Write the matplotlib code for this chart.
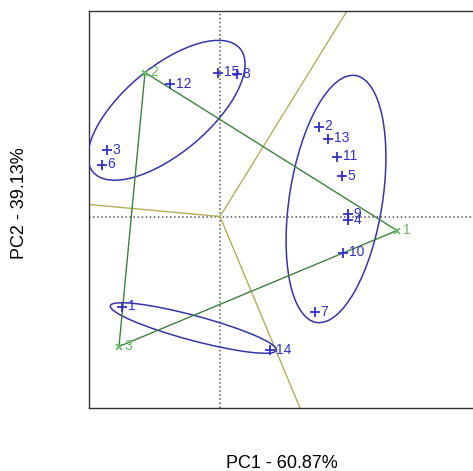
import numpy as np
import matplotlib.pyplot as plt
from matplotlib.patches import Ellipse

# Sample scores on the first two components
labels = ['1', '2', '3', '4', '5', '6', '7', '8', '9', '10', '11', '12', '13', '14', '15']
pc1 = [-0.98, 0.99, -1.13, 1.28, 1.22, -1.18, 0.95, 0.17, 1.28, 1.23, 1.17, -0.50, 1.08, 0.50, -0.02]
pc2 = [-0.90, 0.90, 0.67, -0.03, 0.41, 0.52, -0.95, 1.43, 0.03, -0.36, 0.60, 1.33, 0.78, -1.33, 1.44]

# Group points (green)
grp_labels = ['1', '2', '3']
grp_x = [1.77, -0.75, -1.01]
grp_y = [-0.14, 1.44, -1.30]

# Group ellipses: centre x, centre y, semi-major, semi-minor, angle (deg)
ell_x = [-0.535, 1.16, -0.266]
ell_y = [1.062, 0.175, -1.115]
ell_a = [0.96, 1.25, 0.86]
ell_b = [0.43, 0.465, 0.124]
ell_ang = [40, 81, -15]

# Variable directions
var_x = [1.27, -1.31, 0.80]
var_y = [2.055, 0.12, -1.915]

fig = plt.figure(figsize=(4.73, 4.71), dpi=100)
ax = fig.add_axes([89/473, 1 - 408/471, 385/473, 397/471])
ax.set_xlim(-1.31, 2.54)
ax.set_ylim(-1.915, 2.055)

# reference lines through origin
ax.axhline(0, color='#555555', ls=':', lw=1.1, zorder=1)
ax.axvline(0, color='#555555', ls=':', lw=1.1, zorder=1)

# variable axes (run out to the frame)
for vx, vy in zip(var_x, var_y):
    ax.plot([0, vx * 10], [0, vy * 10], color='#b3ad5c', lw=1, zorder=2)

# ellipses
for cx, cy, a, b, ang in zip(ell_x, ell_y, ell_a, ell_b, ell_ang):
    ax.add_patch(Ellipse((cx, cy), 2 * a, 2 * b, angle=ang, fill=False,
                         ec='#3535a8', lw=1.1, zorder=3))

# triangle between group points
tri_x = grp_x + [grp_x[0]]
tri_y = grp_y + [grp_y[0]]
ax.plot(tri_x, tri_y, color='#3f7f3f', lw=1, zorder=4)
ax.plot(grp_x, grp_y, 'x', color='#66bb66', ms=5, mew=1.2, zorder=5)
for gx, gy, lab in zip(grp_x, grp_y, grp_labels):
    ax.annotate(lab, (gx, gy), xytext=(4, 0), textcoords='offset points',
                ha='left', va='center', color='#66bb66', fontsize=10,
                family='Liberation Sans', zorder=6)

# samples
ax.plot(pc1, pc2, '+', color='#3030c8', ms=6.5, mew=1.3, zorder=5)
for x, y, lab in zip(pc1, pc2, labels):
    ax.annotate(lab, (x, y), xytext=(4, 0), textcoords='offset points',
                ha='left', va='center', color='#3030c8', fontsize=10,
                family='Liberation Sans', zorder=6)

ax.set_xticks([])
ax.set_yticks([])
for s in ax.spines.values():
    s.set_color('#333333')
    s.set_linewidth(1)

ax.set_xlabel('PC1 - 60.87%', fontsize=13, family='Liberation Sans', va='center')
ax.set_ylabel('PC2 - 39.13%', fontsize=13, family='Liberation Sans', va='center')
ax.xaxis.set_label_coords(0.5, -(463 - 408) / 397)
ax.yaxis.set_label_coords(-(89 - 20) / 385, 0.515)

fig.savefig('out.png', dpi=100)
